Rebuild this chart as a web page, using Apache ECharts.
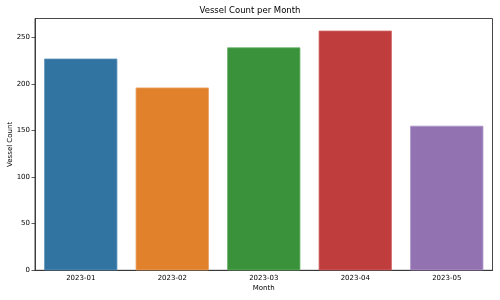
<!DOCTYPE html>
<html>
<head>
<meta charset="utf-8">
<script src="https://cdn.jsdelivr.net/npm/echarts@6/dist/echarts.min.js"></script>
<style>
  html, body { margin: 0; padding: 0; background: #fff; }
  #main { width: 500px; height: 300px; }
</style>
</head>
<body>
<div id="main"></div>
<script>
// data
const months = ['2023-01', '2023-02', '2023-03', '2023-04', '2023-05']
const vesselCounts = [227, 196, 239, 257, 155]
const barColors = ['#3274a1', '#e1812c', '#3a923a', '#c03d3e', '#9372b2']
const edgeColors = ['#5a93bc', '#eaa060', '#68b068', '#d06667', '#ad95c8']
const yTicks = [0, 50, 100, 150, 200, 250]

const chart = echarts.init(document.getElementById('main'))
const font = 'DejaVu Sans'

chart.setOption({
  animation: false,
  title: {
    text: 'Vessel Count per Month',
    left: 'center',
    top: 1,
    textStyle: { fontFamily: font, fontSize: 8.5, fontWeight: 'normal', color: '#000' }
  },
  grid: {
    left: 35,
    right: 7.5,
    top: 18.5,
    bottom: 29.7,
    outerBoundsMode: 'none',
    containLabel: false,
    show: true,
    borderColor: '#333',
    borderWidth: 0.9
  },
  xAxis: {
    type: 'category',
    data: months,
    name: 'Month',
    nameLocation: 'middle',
    nameGap: 14.5,
    nameMoveOverlap: false,
    nameTextStyle: { fontFamily: font, fontSize: 7, color: '#000' },
    axisLine: { lineStyle: { color: '#333', width: 0.9 } },
    axisTick: { alignWithLabel: true, length: 3.5, lineStyle: { color: '#333', width: 0.8 } },
    axisLabel: { fontFamily: font, fontSize: 7, color: '#000', margin: 4.5 },
    splitLine: { show: false }
  },
  yAxis: {
    type: 'value',
    min: 0,
    max: 270,
    interval: 50,
    name: 'Vessel Count',
    nameLocation: 'middle',
    nameGap: 21,
    nameMoveOverlap: false,
    nameTextStyle: { fontFamily: font, fontSize: 7, color: '#000' },
    axisLine: { show: true, lineStyle: { color: '#333', width: 0.9 } },
    axisTick: { show: true, length: 3.5, customValues: yTicks, lineStyle: { color: '#333', width: 0.8 } },
    axisLabel: { fontFamily: font, fontSize: 7, color: '#000', margin: 5, customValues: yTicks },
    splitLine: { show: false }
  },
  series: [
    {
      type: 'bar',
      barCategoryGap: '20%',
      data: vesselCounts.map((v, i) => ({
        value: v,
        itemStyle: { color: barColors[i], borderColor: edgeColors[i], borderWidth: 0.8 }
      }))
    }
  ]
})
</script>
</body>
</html>
